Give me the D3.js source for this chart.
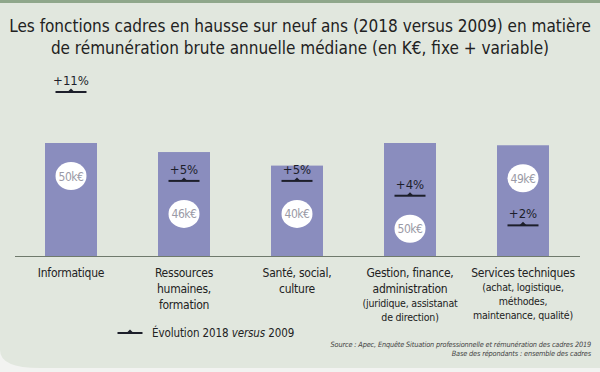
<!DOCTYPE html>
<html>
<head>
<meta charset="utf-8">
<script src="https://cdn.jsdelivr.net/npm/d3@7"></script>
<style>
  html, body { margin: 0; padding: 0; background: #f2f3f1; }
  svg { display: block; }
  text { font-family: "DejaVu Sans Condensed", "Liberation Sans Narrow", "Open Sans", sans-serif; }
</style>
</head>
<body>
<svg id="chart" width="600" height="372"></svg>
<script>
// data
const categories = ['Informatique', 'Ressources humaines', 'Santé, social, culture', 'Gestion, finance, administration', 'Services techniques'];
const salaries = [50, 46, 40, 50, 49];          // k€, 2018
const evolution = [11, 5, 5, 4, 2];             // % 2018 vs 2009
const labelMain = [
  ['Informatique'],
  ['Ressources', 'humaines,', 'formation'],
  ['Santé, social,', 'culture'],
  ['Gestion, finance,', 'administration'],
  ['Services techniques']
];
const labelNote = [
  [],
  [],
  [],
  ['(juridique, assistanat', 'de direction)'],
  ['(achat, logistique,', 'méthodes,', 'maintenance, qualité)']
];
const titleLines = [
  'Les fonctions cadres en hausse sur neuf ans (2018 versus 2009) en matière',
  'de rémunération brute annuelle médiane (en K€, fixe + variable)'
];
const sourceLines = [
  'Source : Apec, Enquête Situation professionnelle et rémunération des cadres 2019',
  'Base des répondants : ensemble des cadres'
];

const W = 600, H = 372;
const baseY = 256;
const svg = d3.select('#chart');

// panel background
svg.append('path')
  .attr('d', `M0,0 H${W} V368 H40 Q0,368 0,350 Z`)
  .attr('fill', '#e1e7de');
svg.append('rect').attr('x', 0).attr('y', 0).attr('width', W).attr('height', 3).attr('fill', '#8fa78b');

// title
svg.append('g').selectAll('text').data(titleLines).join('text')
  .attr('x', W / 2)
  .attr('y', (d, i) => 32 + i * 22)
  .attr('text-anchor', 'middle')
  .attr('font-size', 17)
  .attr('fill', '#222')
  .text(d => d);

const x = d3.scaleBand()
  .domain(categories)
  .range([14.5, 579.5])
  .paddingInner(0.54)
  .paddingOuter(0.27);

const y = d3.scaleLinear().domain([0, 50]).range([baseY, 143]);
const yEvo = d3.scaleLinear().domain([0, 11]).range([255, 92]);

const rows = categories.map((c, i) => ({
  cat: c, value: salaries[i], evo: evolution[i], main: labelMain[i], note: labelNote[i]
}));

// bars
svg.append('g').selectAll('rect').data(rows).join('rect')
  .attr('x', d => x(d.cat))
  .attr('y', d => y(d.value))
  .attr('width', x.bandwidth())
  .attr('height', d => baseY - y(d.value))
  .attr('fill', '#8a8dbe');

// baseline
svg.append('line')
  .attr('x1', 15).attr('x2', 580)
  .attr('y1', baseY + 0.5).attr('y2', baseY + 0.5)
  .attr('stroke', '#6f7a6c').attr('stroke-width', 1);

// evolution markers
function marker(g, w) {
  g.append('line').attr('x1', -w / 2).attr('x2', w / 2)
    .attr('stroke', '#1d1f2b').attr('stroke-width', 2);
  g.append('path').attr('d', 'M-3.5,0 L0,-3.5 L3.5,0 Z').attr('fill', '#1d1f2b');
}

const evo = svg.append('g').selectAll('g').data(rows).join('g')
  .attr('transform', d => `translate(${x(d.cat) + x.bandwidth() / 2},${yEvo(d.evo)})`);
evo.each(function () { marker(d3.select(this), 31); });
evo.append('text')
  .attr('y', -7)
  .attr('text-anchor', 'middle')
  .attr('font-size', 13)
  .attr('fill', '#1d1f2b')
  .text(d => '+' + d.evo + '%');

// value badges: below the marker when there is room, else near the bar top
function badgeY(d) {
  const top = y(d.value), m = yEvo(d.evo);
  const below = m + 33;
  if (m < top || below + 16 > baseY) return top + 33;
  return below;
}
const badge = svg.append('g').selectAll('g').data(rows).join('g')
  .attr('transform', d => `translate(${x(d.cat) + x.bandwidth() / 2},${badgeY(d)})`);
badge.append('ellipse').attr('rx', 15.5).attr('ry', 14).attr('fill', '#fff');
badge.append('text')
  .attr('y', 4.5)
  .attr('text-anchor', 'middle')
  .attr('font-size', 12)
  .attr('letter-spacing', -0.5)
  .attr('fill', '#9a9aa6')
  .text(d => d.value + 'k€');

// category labels
const lab = svg.append('g').selectAll('text').data(rows).join('text')
  .attr('text-anchor', 'middle')
  .attr('fill', '#222');
lab.each(function (d) {
  const t = d3.select(this);
  const cx = x(d.cat) + x.bandwidth() / 2;
  let yy = 276.5;
  d.main.forEach(s => {
    t.append('tspan').attr('x', cx).attr('y', yy)
      .attr('font-size', 12).attr('letter-spacing', -0.25).text(s);
    yy += 16;
  });
  yy -= 1.5;
  d.note.forEach(s => {
    t.append('tspan').attr('x', cx).attr('y', yy)
      .attr('font-size', 10.5).attr('letter-spacing', -0.2).text(s);
    yy += 14;
  });
});

// legend
const leg = svg.append('g').attr('transform', 'translate(130,333)');
marker(leg, 25);
const lt = leg.append('text').attr('x', 22).attr('y', 4)
  .attr('font-size', 11.5).attr('letter-spacing', -0.1).attr('fill', '#222');
lt.append('tspan').text('Évolution 2018 ');
lt.append('tspan').attr('font-style', 'italic').text('versus');
lt.append('tspan').text(' 2009');

// source
svg.append('g').selectAll('text').data(sourceLines).join('text')
  .attr('x', 591)
  .attr('y', (d, i) => 347 + i * 9)
  .attr('text-anchor', 'end')
  .attr('font-size', 7.3)
  .attr('letter-spacing', -0.15)
  .attr('font-style', 'italic')
  .attr('fill', '#444')
  .text(d => d);
</script>
</body>
</html>
